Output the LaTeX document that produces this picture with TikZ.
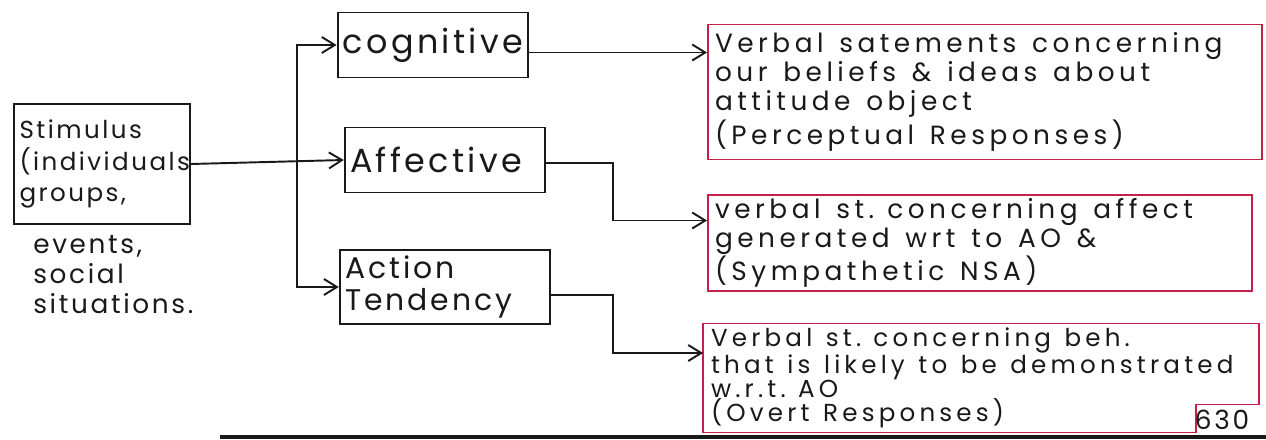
\documentclass[tikz,border=0pt]{standalone}
\usepackage{fontspec}
\setmainfont{Poppins}
\newfontfamily\handwide[LetterSpace=17]{Poppins}
\newfontfamily\handmid[LetterSpace=10]{Poppins}
\newcommand\wordgap[1]{\spaceskip #1\relax}
\usetikzlibrary{arrows.meta,positioning,calc}
\definecolor{penblack}{RGB}{25,25,25}
\definecolor{penred}{RGB}{196,32,72}

\begin{document}
\begin{tikzpicture}[x=0.02cm, y=-0.02cm,
  pen/.style={draw=penblack, line width=1.1pt},
  blackbox/.style={pen, inner sep=3pt, align=left, font=\handmid\fontsize{19}{21}\selectfont, text=penblack},
  redbox/.style={draw=penred, line width=1.1pt, inner xsep=4pt, inner ysep=2pt, align=left, font=\handwide\fontsize{15}{16.5}\selectfont, execute at begin node=\wordgap{0.6em}, text=penblack},
  flow/.style={pen, -{Straight Barb[length=2.6mm, width=3.2mm, line width=1.1pt]}}]
  \useasboundingbox (0,0) rectangle (1266,439);
  % left column
  \node[blackbox, font=\handmid\fontsize{14}{18}\selectfont, minimum width=3.5cm, minimum height=2.4cm, text width=3.3cm] (stim) at (102,164) {Stimulus\\(individuals\\groups,};
  \node[anchor=north west, align=left, inner sep=0pt, font=\handmid\fontsize{15}{17}\selectfont, text=penblack] (stimmore) at (33,235) {events,\\social\\situations.};
  % components
  \node[blackbox, minimum width=3.74cm, minimum height=1.3cm] (cog) at (433,45) {cognitive};
  \node[blackbox, minimum width=4.0cm, minimum height=1.3cm, text width=3.8cm] (aff) at (445,160) {Affective};
  \node[blackbox, font=\handmid\fontsize{17}{18.5}\selectfont, minimum width=4.2cm, minimum height=1.34cm, text width=4.0cm] (act) at (445,287) {Action\\Tendency};
  % responses
  \node[redbox, minimum width=11.0cm, minimum height=2.7cm, text width=10.8cm] (r1) at (985,92) {Verbal satements concerning\\our beliefs \& ideas about\\attitude object\\(Perceptual Responses)};
  \node[redbox, minimum width=10.8cm, minimum height=1.9cm, text width=10.6cm] (r2) at (980,243) {verbal st. concerning affect\\generated wrt to AO \&\\(Sympathetic NSA)};
  \node[redbox, draw=none, font=\handwide\fontsize{14}{13.6}\selectfont, execute at begin node=\wordgap{0.55em}, minimum width=10.96cm, minimum height=2.12cm, text width=10.8cm] (r3) at (981,378) {Verbal st. concerning beh.\\that is likely to be demonstrated\\w.r.t. AO\\(Overt Responses)};
  \draw[penred, line width=1.1pt] (r3.south west) -- (r3.north west) -- (r3.north east) -- ([yshift=0.56cm]r3.south east) -- ([xshift=-1.26cm, yshift=0.56cm]r3.south east) -- ([xshift=-1.26cm]r3.south east) -- cycle;
  \node[font=\handmid\fontsize{15}{17}\selectfont, text=penblack, inner sep=0pt] (page) at (1222,420) {630};
  % connectors
  \coordinate (fork) at (297,160);
  \draw[flow] (stim.east) -- (aff.west);
  \draw[flow] (fork) |- (cog.west);
  \draw[flow] (fork) |- (act.west);
  \draw[flow] ([yshift=-0.15cm]cog.east) -- ([yshift=-0.15cm]cog.east -| r1.west);
  \draw[flow] ([yshift=-0.06cm]aff.east) -- ++(1.34cm,0) |- ([yshift=0.45cm]r2.west);
  \draw[flow] ([yshift=-0.16cm]act.east) -- ++(1.24cm,0) |- ([yshift=0.5cm]r3.west);
  % page edge
  \fill[penblack] (220,435) rectangle (1266,439);
\end{tikzpicture}
\end{document}
